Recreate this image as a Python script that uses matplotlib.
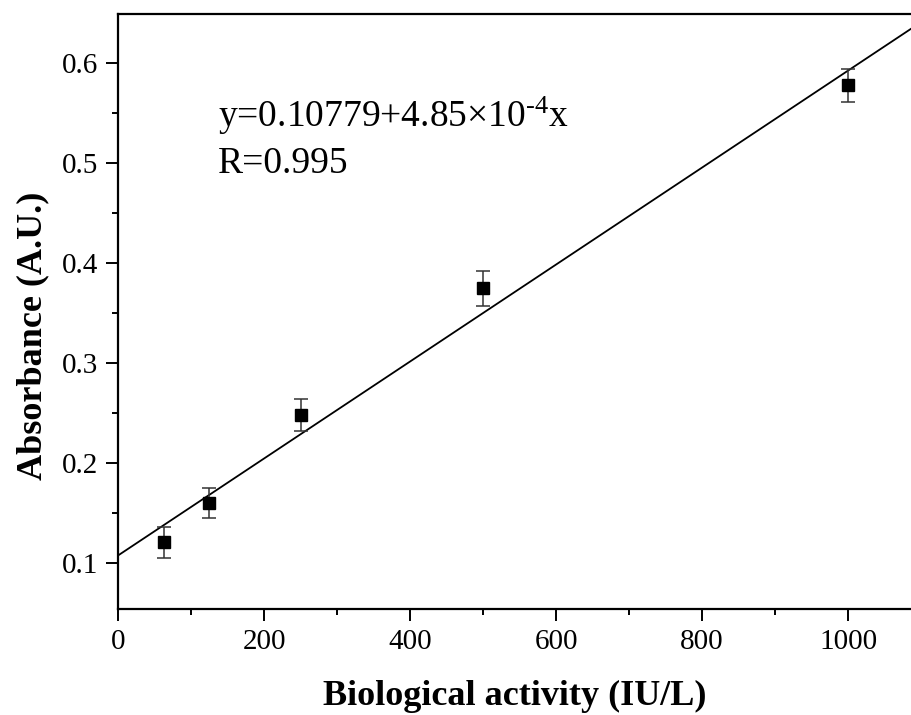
import matplotlib
matplotlib.use('Agg')
import matplotlib.pyplot as plt
import numpy as np

plt.rcParams['font.family'] = 'Liberation Serif'
plt.rcParams['mathtext.fontset'] = 'custom'
plt.rcParams['mathtext.rm'] = 'Liberation Serif'
plt.rcParams['mathtext.it'] = 'Liberation Serif:italic'

# measured data
activity = [62.5, 125, 250, 500, 1000]
absorbance = [0.121, 0.160, 0.248, 0.375, 0.578]
abs_err = [0.0157, 0.0148, 0.016, 0.0173, 0.0165]

# linear fit from the chart annotation
intercept = 0.10779
slope = 4.85e-4

xlim = (0, 1086)
ylim = (0.0543, 0.6493)

fig = plt.figure(figsize=(9.11, 7.15), dpi=100)
ax = fig.add_axes([118/911, 1 - 609/715, 1 - 118/911, (609-14)/715])

fit_x = np.array(xlim)
ax.plot(fit_x, intercept + slope*fit_x, color='black', lw=1.3)

ax.errorbar(activity, absorbance, yerr=abs_err, fmt='s', color='black',
            ms=8.5, ecolor='#333333', elinewidth=1.1, capsize=5, capthick=1.1)

ax.set_xlim(*xlim)
ax.set_ylim(*ylim)
ax.set_xticks([0, 200, 400, 600, 800, 1000])
ax.set_xticks([100, 300, 500, 700, 900], minor=True)
ax.set_yticks([0.1, 0.2, 0.3, 0.4, 0.5, 0.6])
ax.set_yticks([0.15, 0.25, 0.35, 0.45, 0.55], minor=True)
ax.tick_params(which='major', length=8.5, width=1.4, labelsize=21, direction='out', pad=6)
ax.tick_params(which='minor', length=4.5, width=1.4, direction='out')

for side in ('left', 'bottom', 'top'):
    ax.spines[side].set_linewidth(1.6)
ax.spines['right'].set_visible(False)

ax.set_xlabel('Biological activity (IU/L)', fontsize=26, fontweight='bold', labelpad=18)
ax.set_ylabel('Absorbance (A.U.)', fontsize=26, fontweight='bold')
ax.yaxis.set_label_coords(-0.087, 0.459)

fig.text(218/911, 1 - 127/715, 'y=0.10779+4.85×10$^{\u20104}$x', fontsize=27,
         va='baseline', ha='left')
fig.text(218/911, 1 - 173/715, 'R=0.995', fontsize=27, va='baseline', ha='left')

fig.savefig('out.png', dpi=100)
